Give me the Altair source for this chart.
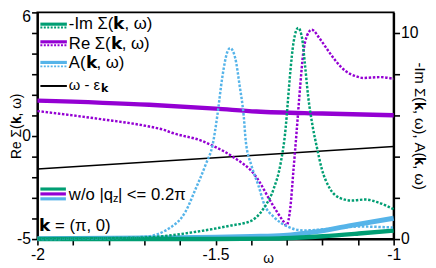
import altair as alt
import pandas as pd

# ---------------- data ----------------
# Re Sigma (with), solid purple, left axis
re_w = [-2.0, -1.686, -1.5, -1.385, -1.2, -1.0]
re_v = [1.72, 1.52, 1.33, 1.19, 1.09, 1.01]

# Re Sigma w/o |qz|<=0.2pi, dotted purple, left axis
re_wo_w = [-2.0, -1.822, -1.686, -1.645, -1.623, -1.536, -1.503, -1.454, -1.385,
           -1.344, -1.309, -1.301, -1.290, -1.281, -1.272, -1.262, -1.254, -1.243,
           -1.230, -1.208, -1.189, -1.161, -1.134, -1.107, -1.085, -1.038, -1.0]
re_wo_v = [1.21, 0.82, 0.46, 0.30, 0.16, -0.25, -0.51, -0.98, -2.0,
           -3.22, -4.16, -4.35, -3.46, -1.6, 0.3, 2.5, 4.0, 4.88,
           5.16, 4.74, 4.27, 3.61, 3.14, 2.91, 2.82, 2.86, 2.77]

# omega - eps_k, black, left axis
bare_w = [-2.0, -1.0]
bare_v = [-1.60, -0.51]

# -Im Sigma (with), solid green, right axis
im_w = [-2.0, -1.5, -1.35, -1.309, -1.199, -1.098, -1.0]
im_v = [0.0, 0.0, 0.02, 0.04, 0.14, 0.27, 0.41]

# -Im Sigma w/o, dotted green, right axis
im_wo_w = [-2.0, -1.781, -1.686, -1.549, -1.459, -1.399, -1.385, -1.363, -1.336,
           -1.317, -1.303, -1.298, -1.290, -1.281, -1.268, -1.257, -1.249, -1.240,
           -1.227, -1.216, -1.202, -1.180, -1.153, -1.117, -1.079, -1.044, -1.0]
im_wo_v = [0.02, 0.05, 0.09, 0.37, 0.65, 0.89, 1.07, 1.54, 2.48,
           3.70, 5.43, 6.46, 8.14, 9.55, 10.25, 9.74, 8.47, 6.93,
           5.43, 4.49, 3.42, 2.48, 2.01, 1.87, 1.92, 1.78, 1.45]

# A(k, w) (with), solid blue, right axis
a_w = [-2.0, -1.7, -1.5, -1.4, -1.309, -1.216, -1.126, -1.0]
a_v = [0.02, 0.05, 0.09, 0.13, 0.18, 0.36, 0.64, 1.01]

# A(k, w) w/o, dotted blue, right axis
a_wo_w = [-2.0, -1.781, -1.686, -1.645, -1.631, -1.585, -1.557, -1.527, -1.508,
          -1.495, -1.481, -1.467, -1.459, -1.445, -1.432, -1.421, -1.415, -1.399,
          -1.380, -1.363, -1.336, -1.298, -1.254, -1.172, -1.098, -1.0]
a_wo_v = [0.0, 0.05, 0.14, 0.37, 0.51, 1.31, 2.39, 3.65, 4.59,
          5.99, 7.86, 9.08, 9.27, 8.80, 7.40, 5.99, 4.73, 3.56,
          2.62, 1.68, 1.07, 0.61, 0.42, 0.51, 0.61, 0.56]

x_ticks = [round(-2.0 + 0.1 * i, 1) for i in range(11)]
left_ticks = list(range(-5, 7))
right_ticks = [0, 2, 4, 6, 8, 10]

GREEN = "#009E73"
PURPLE = "#9400D3"
BLUE = "#56B4E9"
FONT = "Liberation Sans"
DOT = [2.5, 1.7]

xscale = alt.Scale(domain=[-2, -1], nice=False, zero=False)
lscale = alt.Scale(domain=[-5, 6], nice=False, zero=False)
rscale = alt.Scale(domain=[0, 11], nice=False, zero=False)

xaxis = alt.Axis(values=x_ticks, title="ω",
                 labelExpr="abs(datum.value+2)<0.001 ? '-2' : abs(datum.value+1.5)<0.001 ? '-1.5' : abs(datum.value+1)<0.001 ? '-1' : ''",
                 labelFlush=False, labelPadding=2, titleFontSize=14,
                 titleX=235, titleY=20, titleBaseline="middle")
laxis = alt.Axis(values=left_ticks, orient="left", title="Re Σ(𝐤, ω)",
                 labelExpr="datum.value==6 ? '6' : datum.value==0 ? '0' : datum.value==-5 ? '-5' : ''",
                 labelPadding=1,
                 labelOffset={"condition": {"test": "datum.value == 6", "value": 4}, "value": 0},
                 titleX=-14, titleBaseline="bottom", titleFontSize=14)
raxis = alt.Axis(values=right_ticks, orient="right", title="-Im Σ(𝐤, ω), A(𝐤, ω)",
                 labelExpr="datum.value==0 ? '0' : datum.value==10 ? '10' : ''",
                 labelPadding=1, titleX=18, titleBaseline="bottom", titleFontSize=15)


def series(w, v, color, width, dash, axis, scale, interp="monotone"):
    df = pd.DataFrame({"w": w, "v": v})
    kw = dict(color=color, strokeWidth=width, interpolate=interp, strokeCap="butt")
    if dash:
        kw["strokeDash"] = dash
    return alt.Chart(df).mark_line(**kw).encode(
        x=alt.X("w:Q", scale=xscale, axis=xaxis),
        y=alt.Y("v:Q", scale=scale, axis=axis),
    )


left = alt.layer(
    series(bare_w, bare_v, "black", 1.6, None, laxis, lscale, "linear"),
    series(re_w, re_v, PURPLE, 4.5, None, laxis, lscale),
    series(re_wo_w, re_wo_v, PURPLE, 2.5, DOT, laxis, lscale),
)
right = alt.layer(
    series(a_w, a_v, BLUE, 5, None, raxis, rscale),
    series(im_w, im_v, GREEN, 4.5, None, raxis, rscale),
    series(a_wo_w, a_wo_v, BLUE, 2.5, DOT, raxis, rscale),
    series(im_wo_w, im_wo_v, GREEN, 2.5, DOT, raxis, rscale),
)

one = pd.DataFrame({"a": [0]})


def txt(s, x, y, size=17, weight="normal", baseline="middle"):
    return alt.Chart(one).mark_text(align="left", baseline=baseline, font=FONT,
                                    fontSize=size, fontWeight=weight, color="black").encode(
        x=alt.value(x), y=alt.value(y), text=alt.value(s))


def seg(x1, x2, y, color, width, dash=None):
    kw = dict(color=color, strokeWidth=width, strokeCap="butt")
    if dash:
        kw["strokeDash"] = dash
    return alt.Chart(one).mark_rule(**kw).encode(
        x=alt.value(x1), x2=alt.value(x2), y=alt.value(y))


annos = [
    seg(3, 30, 12, GREEN, 3.2), seg(3, 30, 15.5, GREEN, 2, [2, 1.5]),
    txt("-Im Σ(𝗸, ω)", 32, 12),
    seg(3, 30, 30, PURPLE, 3.2), seg(3, 30, 33.5, PURPLE, 2, [2, 1.5]),
    txt("Re Σ(𝗸, ω)", 32, 32),
    seg(3, 30, 51, BLUE, 3.2), seg(3, 30, 55, BLUE, 2, [2, 1.5]),
    txt("A(𝗸, ω)", 32, 52),
    seg(3, 30, 75, "black", 2),
    txt("ω - ε", 32, 74, size=15),
    txt("𝗸", 65, 78.5, size=11),
    seg(3, 29, 180, GREEN, 3.2), seg(3, 29, 185, PURPLE, 3.2), seg(3, 29, 190, BLUE, 3.2),
    txt("w/o |q", 32, 186),
    txt("z", 77, 190, size=11),
    txt("| <= 0.2π", 82, 186),
    txt("𝗸 = (π, 0)", 2, 218),
]

chart = alt.layer(left, right, *annos).resolve_scale(y="independent").properties(
    width=363, height=231,
    autosize=alt.AutoSizeParams(type="none"),
    padding={"left": 30, "top": 2, "right": 35, "bottom": 27},
).configure_view(stroke="black", strokeWidth=2).configure_axis(
    grid=False, domainColor="black", domainWidth=2, tickColor="black", tickWidth=1.6,
    tickSize=6, labelFont=FONT, labelFontSize=16, labelColor="black",
    titleFont=FONT, titleFontSize=16, titleFontWeight="normal", titleColor="black",
    labelOverlap=False, labelBound=False,
)

chart.save("out.html", embed_options={"renderer": "svg", "actions": False})
